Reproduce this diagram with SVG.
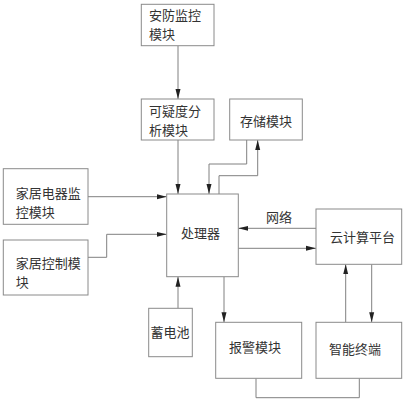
<svg xmlns="http://www.w3.org/2000/svg" width="406" height="400" viewBox="0 0 406 400">
<style>
.box{fill:#fff;stroke:#8a8a8a;stroke-width:1}
.t{font-family:"Noto Sans CJK SC","Liberation Sans",sans-serif;font-size:13px;fill:#333}
.c{fill:none;stroke:#808080;stroke-width:1}
</style>
<defs>
<marker id="a" viewBox="0 0 10 6" refX="10" refY="3" markerWidth="10" markerHeight="6" markerUnits="userSpaceOnUse" orient="auto">
<path d="M0,0.5 L10,3 L0,5.5 Z" fill="#222"/>
</marker>
</defs>
<rect width="406" height="400" fill="#fff"/>
<g id="connectors">
<path class="c" d="M178,46 V99" marker-end="url(#a)"/>
<path class="c" d="M178,140 V194" marker-end="url(#a)"/>
<path class="c" d="M246.7,140 V164 H209 V194" marker-end="url(#a)"/>
<path class="c" d="M219,194 V175.7 H257.7 V140" marker-end="url(#a)"/>
<path class="c" d="M88,196.7 H166.7" marker-end="url(#a)"/>
<path class="c" d="M88,257.3 H106.7 V234.3 H166.7" marker-end="url(#a)"/>
<path class="c" d="M316,228.3 H238.3" marker-end="url(#a)"/>
<path class="c" d="M238.3,248.3 H316" marker-end="url(#a)"/>
<path class="c" d="M178,308.3 V276.7" marker-end="url(#a)"/>
<path class="c" d="M224,276.7 V322.3" marker-end="url(#a)"/>
<path class="c" d="M345.7,322.3 V264.3" marker-end="url(#a)"/>
<path class="c" d="M371.7,264.3 V322.3" marker-end="url(#a)"/>
<path class="c" d="M256,378.3 V397.7 H359.3 V378.3"/>
<text class="t" x="266" y="222">网络</text>
</g>
<g id="anfang">
<rect class="box" x="141.3" y="4.3" width="72.7" height="41.4"/>
<text class="t" x="149" y="19.5">安防监控</text>
<text class="t" x="149" y="38.5">模块</text>
</g>
<g id="keyi">
<rect class="box" x="141.3" y="99" width="72.7" height="41"/>
<text class="t" x="149" y="116">可疑度分</text>
<text class="t" x="149" y="135">析模块</text>
</g>
<g id="cunchu">
<rect class="box" x="229.7" y="99" width="72.6" height="41"/>
<text class="t" x="266" y="126" text-anchor="middle">存储模块</text>
</g>
<g id="dianqi">
<rect class="box" x="3.3" y="168.7" width="84.7" height="55.6"/>
<text class="t" x="15.7" y="197.5">家居电器监</text>
<text class="t" x="15.7" y="216.5">控模块</text>
</g>
<g id="chuliqi">
<rect class="box" x="166.7" y="194" width="71.6" height="82.7"/>
<text class="t" x="181" y="238">处理器</text>
</g>
<g id="kongzhi">
<rect class="box" x="3.3" y="240" width="84.7" height="55"/>
<text class="t" x="15.7" y="267.5">家居控制模</text>
<text class="t" x="15.7" y="287">块</text>
</g>
<g id="yun">
<rect class="box" x="316" y="209" width="85.7" height="55.3"/>
<text class="t" x="330" y="242">云计算平台</text>
</g>
<g id="xudianchi">
<rect class="box" x="148.7" y="308.3" width="43.6" height="48.4"/>
<text class="t" x="150.5" y="337">蓄电池</text>
</g>
<g id="baojing">
<rect class="box" x="215.7" y="322.3" width="86" height="56"/>
<text class="t" x="229" y="352">报警模块</text>
</g>
<g id="zhineng">
<rect class="box" x="316" y="322.3" width="85.7" height="56"/>
<text class="t" x="329" y="354">智能终端</text>
</g>
</svg>
